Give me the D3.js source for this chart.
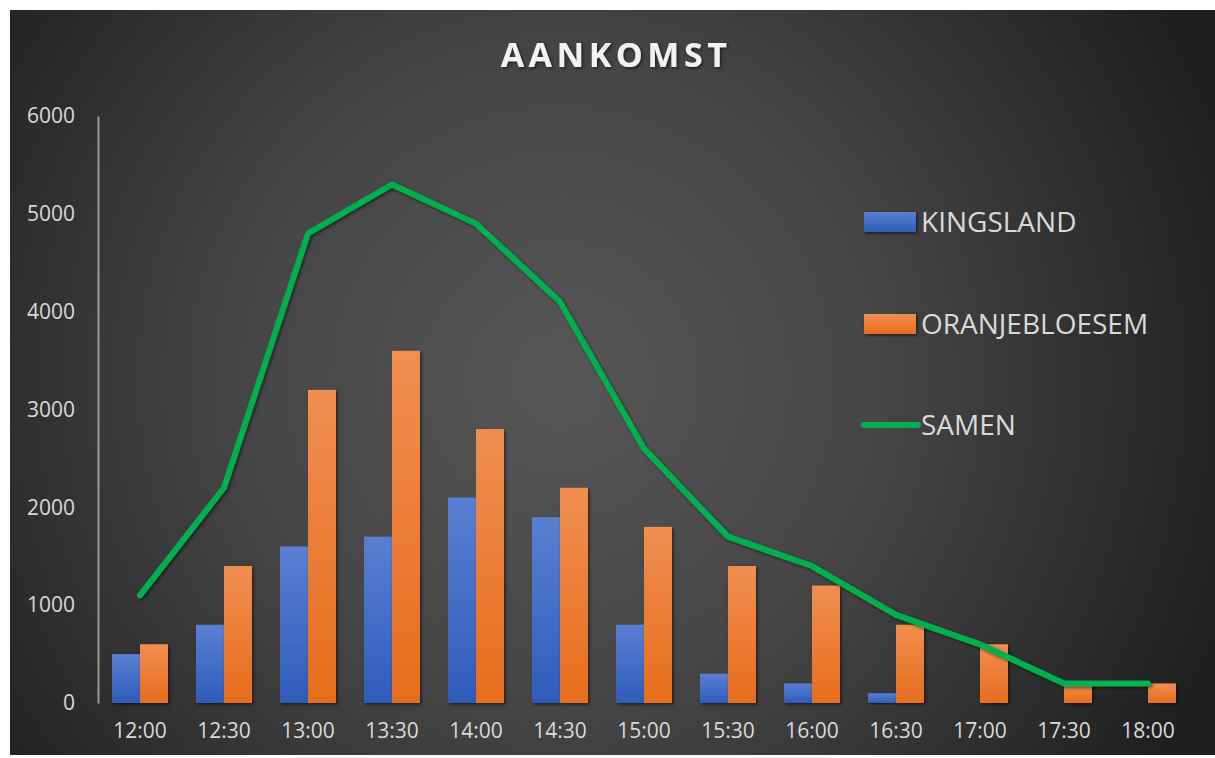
<!DOCTYPE html>
<html>
<head>
<meta charset="utf-8">
<script src="https://cdn.jsdelivr.net/npm/d3@7/dist/d3.min.js"></script>
<style>
  body { margin: 0; background: #fff; }
  svg { display: block; }
  text { font-family: "Open Sans", "DejaVu Sans", sans-serif; }
</style>
</head>
<body>
<div id="chart"></div>
<script>
const times = ['12:00', '12:30', '13:00', '13:30', '14:00', '14:30', '15:00', '15:30', '16:00', '16:30', '17:00', '17:30', '18:00'];
const kingsland = [500, 800, 1600, 1700, 2100, 1900, 800, 300, 200, 100, 0, 0, 0];
const oranjebloesem = [600, 1400, 3200, 3600, 2800, 2200, 1800, 1400, 1200, 800, 600, 200, 200];
const samen = [1100, 2200, 4800, 5300, 4900, 4100, 2600, 1700, 1400, 900, 600, 200, 200];
const yTicks = [0, 1000, 2000, 3000, 4000, 5000, 6000];

const width = 1215, height = 758;
const margins = { left: 98, right: 25, top: 116, bottom: 55 };

const svg = d3.select('#chart').append('svg')
  .attr('width', width)
  .attr('height', height);

const defs = svg.append('defs');

// background radial gradient
const bg = defs.append('radialGradient')
  .attr('id', 'bg')
  .attr('gradientUnits', 'userSpaceOnUse')
  .attr('cx', 560).attr('cy', 380).attr('r', 720);
bg.append('stop').attr('offset', '0%').attr('stop-color', '#575757');
bg.append('stop').attr('offset', '45%').attr('stop-color', '#454545');
bg.append('stop').attr('offset', '100%').attr('stop-color', '#1e1e1e');

const blueGrad = defs.append('linearGradient').attr('id', 'blueGrad')
  .attr('x1', 0).attr('y1', 0).attr('x2', 0).attr('y2', 1);
blueGrad.append('stop').attr('offset', '0%').attr('stop-color', '#5a7fd2');
blueGrad.append('stop').attr('offset', '100%').attr('stop-color', '#2e5cba');

const orangeGrad = defs.append('linearGradient').attr('id', 'orangeGrad')
  .attr('x1', 0).attr('y1', 0).attr('x2', 0).attr('y2', 1);
orangeGrad.append('stop').attr('offset', '0%').attr('stop-color', '#f18e51');
orangeGrad.append('stop').attr('offset', '100%').attr('stop-color', '#e66d1c');

const shadow = defs.append('filter').attr('id', 'shadow')
  .attr('x', '-20%').attr('y', '-20%').attr('width', '140%').attr('height', '140%');
shadow.append('feDropShadow')
  .attr('dx', 1.5).attr('dy', 1.5).attr('stdDeviation', 1.5)
  .attr('flood-color', '#000').attr('flood-opacity', 0.55);

svg.append('rect')
  .attr('x', 10).attr('y', 10)
  .attr('width', width - 10).attr('height', 745)
  .attr('fill', 'url(#bg)');

// title
svg.append('text')
  .attr('x', 616).attr('y', 67)
  .attr('text-anchor', 'middle')
  .attr('fill', '#f2f2f2')
  .attr('font-size', 34)
  .attr('font-weight', 700)
  .attr('letter-spacing', 4.5)
  .attr('filter', 'url(#shadow)')
  .text('AANKOMST');

const plotW = 1190 - margins.left;
const plotH = 703 - margins.top;

const g = svg.append('g')
  .attr('transform', `translate(${margins.left},${margins.top})`);

const x = d3.scaleBand().domain(times).range([0, plotW]).paddingInner(1 / 3).paddingOuter(1 / 6);
const xc = d3.scaleBand().domain(times).range([0, plotW]);
const y = d3.scaleLinear().domain([0, 6000]).range([plotH, 0]);
const xSub = d3.scaleBand().domain(['k', 'o']).range([0, x.bandwidth()]);

// y axis
const yAxis = d3.axisLeft(y).tickValues(yTicks).tickFormat(d3.format('d')).tickSize(0).tickPadding(23);
const yAxisGroup = g.append('g').attr('class', 'y-axis').call(yAxis);
yAxisGroup.select('.domain').attr('stroke', '#9a9a9a').attr('stroke-width', 2);
yAxisGroup.selectAll('text')
  .attr('fill', '#d9d9d9')
  .attr('font-size', 21)
  .style('font-family', '"Open Sans", sans-serif');

// x axis labels
const xAxis = d3.axisBottom(xc).tickSize(0).tickPadding(20);
const xAxisGroup = g.append('g').attr('class', 'x-axis')
  .attr('transform', `translate(0,${plotH})`)
  .call(xAxis);
xAxisGroup.select('.domain').remove();
xAxisGroup.selectAll('text')
  .attr('fill', '#d9d9d9')
  .attr('font-size', 21)
  .style('font-family', '"Open Sans", sans-serif');

// bars
const groups = g.append('g').selectAll('g')
  .data(times)
  .join('g')
  .attr('transform', d => `translate(${x(d)},0)`);

groups.append('rect')
  .attr('x', xSub('k'))
  .attr('width', xSub.bandwidth())
  .attr('y', (d, i) => y(kingsland[i]))
  .attr('height', (d, i) => plotH - y(kingsland[i]))
  .attr('fill', 'url(#blueGrad)')
  .attr('filter', 'url(#shadow)');

groups.append('rect')
  .attr('x', xSub('o'))
  .attr('width', xSub.bandwidth())
  .attr('y', (d, i) => y(oranjebloesem[i]))
  .attr('height', (d, i) => plotH - y(oranjebloesem[i]))
  .attr('fill', 'url(#orangeGrad)')
  .attr('filter', 'url(#shadow)');

// line
const line = d3.line()
  .x((d, i) => xc(times[i]) + xc.bandwidth() / 2)
  .y(d => y(d));

g.append('path')
  .datum(samen)
  .attr('d', line)
  .attr('fill', 'none')
  .attr('stroke', '#00b050')
  .attr('stroke-width', 6)
  .attr('stroke-linejoin', 'round')
  .attr('stroke-linecap', 'round')
  .attr('filter', 'url(#shadow)');

// legend
const legend = svg.append('g').attr('transform', 'translate(864,0)');
const legendItems = [
  { label: 'KINGSLAND', type: 'rect', fill: 'url(#blueGrad)', y: 222 },
  { label: 'ORANJEBLOESEM', type: 'rect', fill: 'url(#orangeGrad)', y: 324 },
  { label: 'SAMEN', type: 'line', fill: '#00b050', y: 425 }
];
legendItems.forEach(item => {
  if (item.type === 'rect') {
    legend.append('rect')
      .attr('x', 0).attr('y', item.y - 10)
      .attr('width', 52).attr('height', 20)
      .attr('fill', item.fill)
      .attr('filter', 'url(#shadow)');
  } else {
    legend.append('line')
      .attr('x1', 0).attr('x2', 54)
      .attr('y1', item.y).attr('y2', item.y)
      .attr('stroke', item.fill)
      .attr('stroke-width', 6)
      .attr('stroke-linecap', 'round');
  }
  legend.append('text')
    .attr('x', 57).attr('y', item.y)
    .attr('dy', '0.36em')
    .attr('fill', '#d9d9d9')
    .attr('font-size', 28)
    .text(item.label);
});
</script>
</body>
</html>
